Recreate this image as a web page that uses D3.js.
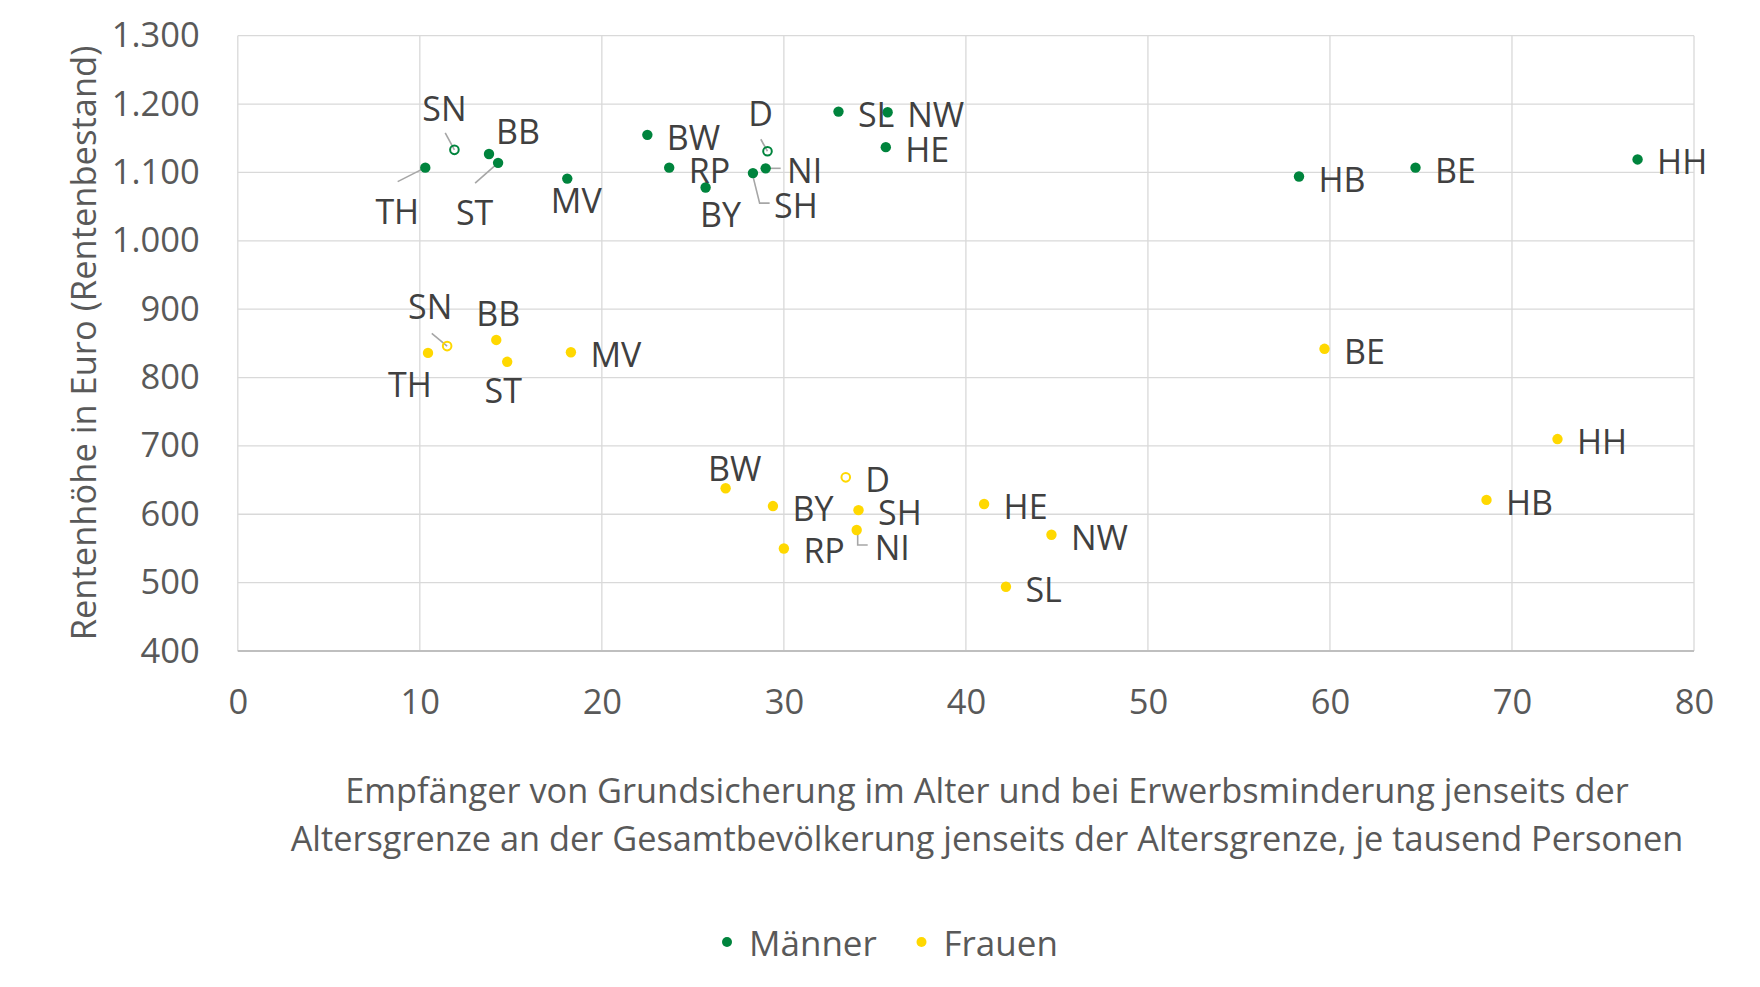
<!DOCTYPE html>
<html>
<head>
<meta charset="utf-8">
<script src="https://cdn.jsdelivr.net/npm/d3@7"></script>
<style>
  html, body { margin: 0; padding: 0; background: #fff; }
  svg { display: block; font-family: "Open Sans", sans-serif; }
</style>
</head>
<body>
<svg id="chart" width="1760" height="987"></svg>
<script>
// ---- data ----
const states = ["TH","SN","BB","ST","MV","BW","RP","BY","D","NI","SH","SL","NW","HE","HB","BE","HH"];
const maennerX = [10.3, 11.9, 13.8, 14.3, 18.1, 22.5, 23.7, 25.7, 29.1, 29.0, 28.3, 33.0, 35.7, 35.6, 58.3, 64.7, 76.9];
const maennerY = [1107, 1133, 1127, 1114, 1091, 1155, 1107, 1078, 1131, 1106, 1099, 1189, 1188, 1137, 1094, 1107, 1119];
const frauenX  = [10.45, 11.5, 14.2, 14.8, 18.3, 26.8, 30.0, 29.4, 33.4, 34.0, 34.1, 42.2, 44.7, 41.0, 68.6, 59.7, 72.5];
const frauenY  = [836, 846, 855, 823, 837, 638, 550, 612, 654, 577, 606, 494, 570, 615, 621, 842, 710];
const seriesNames = ["Männer", "Frauen"];
const xTicks = [0, 10, 20, 30, 40, 50, 60, 70, 80];
const yTicks = [400, 500, 600, 700, 800, 900, 1000, 1100, 1200, 1300];
const xTitle = ["Empfänger von Grundsicherung im Alter und bei Erwerbsminderung jenseits der",
                "Altersgrenze an der Gesamtbevölkerung jenseits der Altersgrenze, je tausend Personen"];
const yTitle = "Rentenhöhe in Euro (Rentenbestand)";

// ---- styling / label placement (not data) ----
const colors = ["#00843D", "#FFD800"];
const hollow = new Set(["D", "SN"]);
// "r" = right of point; otherwise [dx, dy] of label centre
const labelPlace = [
  { TH:[-28,43], SN:[-10,-42], BB:[29,-23], ST:[-23.5,49.5], MV:[9,21], BW:"r", RP:"r", BY:[15,27],
    D:[-7,-38], NI:[39,2], SH:[43,32], SL:"r", NW:"r", HE:"r", HB:"r", BE:"r", HH:"r" },
  { TH:[-18,31], SN:[-17,-40], BB:[2,-27], ST:[-4,28], MV:"r", BW:[9,-20], RP:"r", BY:"r",
    D:"r", NI:[35.6,17], SH:"r", SL:"r", NW:"r", HE:"r", HB:"r", BE:"r", HH:"r" }
];
const leaders = [
  { TH:[[-27.6,14],[0,0]], SN:[[-9.2,-17],[0,0]], ST:[[-23,20.3],[0,0]], D:[[-6.7,-12],[0,0]],
    NI:[[15,0],[4,0]], SH:[[0,3],[6.7,30],[16.7,30]] },
  { SN:[[-15.4,-12.7],[0,0]], NI:[[1,4],[1,15],[11,15]] }
];

const svg = d3.select("#chart");
const x = d3.scaleLinear().domain([0, 80]).range([237.8, 1694]);
const y = d3.scaleLinear().domain([400, 1300]).range([651, 35.7]);
const de = d3.formatLocale({ decimal: ",", thousands: ".", grouping: [3], currency: ["", "€"] });
const fmt = de.format(",d");

// gridlines
const grid = svg.append("g");
grid.selectAll("line.h").data(yTicks).join("line")
  .attr("x1", x(0)).attr("x2", x(80)).attr("y1", d => y(d)).attr("y2", d => y(d))
  .attr("stroke", "#d9d9d9").attr("stroke-width", 1.3);
grid.selectAll("line.v").data(xTicks).join("line")
  .attr("y1", y(400)).attr("y2", y(1300)).attr("x1", d => x(d)).attr("x2", d => x(d))
  .attr("stroke", "#d9d9d9").attr("stroke-width", 1.3);
// bottom axis line
svg.append("line").attr("x1", x(0)).attr("x2", x(80)).attr("y1", y(400)).attr("y2", y(400))
  .attr("stroke", "#bfbfbf").attr("stroke-width", 2);

// axes (labels only)
const xAxis = svg.append("g").attr("transform", `translate(0,${y(400)})`)
  .call(d3.axisBottom(x).tickValues(xTicks).tickSize(0).tickPadding(39).tickFormat(d3.format("d")));
xAxis.select(".domain").remove();
xAxis.selectAll("text").attr("font-size", 34.5).attr("fill", "#595959").attr("font-family", "Open Sans");

const yAxis = svg.append("g").attr("transform", `translate(${x(0)},0)`)
  .call(d3.axisLeft(y).tickValues(yTicks).tickSize(0).tickPadding(38).tickFormat(fmt));
yAxis.select(".domain").remove();
yAxis.selectAll("text").attr("font-size", 34.5).attr("fill", "#595959").attr("font-family", "Open Sans");

// axis titles
svg.append("text").attr("transform", "translate(82,343) rotate(-90)")
  .attr("text-anchor", "middle").attr("dominant-baseline", "central")
  .attr("font-size", 34.5).attr("fill", "#595959").text(yTitle);
svg.selectAll("text.xt").data(xTitle).join("text")
  .attr("x", 987).attr("y", (d, i) => 789 + i * 48)
  .attr("text-anchor", "middle").attr("dominant-baseline", "central")
  .attr("font-size", 34.3).attr("fill", "#595959").text(d => d);

// series
const series = [
  states.map((s, i) => ({ s, x: maennerX[i], y: maennerY[i] })),
  states.map((s, i) => ({ s, x: frauenX[i], y: frauenY[i] }))
];

series.forEach((pts, k) => {
  const g = svg.append("g");
  // leader lines
  pts.forEach(p => {
    const L = leaders[k][p.s];
    if (!L) return;
    const px = x(p.x), py = y(p.y);
    g.append("polyline")
      .attr("points", L.map(o => `${px + o[0]},${py + o[1]}`).join(" "))
      .attr("fill", "none").attr("stroke", "#a6a6a6").attr("stroke-width", 1.6);
  });
  // markers
  g.selectAll("circle").data(pts).join("circle")
    .attr("cx", d => x(d.x)).attr("cy", d => y(d.y)).attr("r", d => hollow.has(d.s) ? 4.3 : 5.2)
    .attr("fill", d => hollow.has(d.s) ? "none" : colors[k])
    .attr("stroke", d => hollow.has(d.s) ? colors[k] : "none")
    .attr("stroke-width", 2);
  // labels
  g.selectAll("text").data(pts).join("text")
    .each(function(d) {
      const pl = labelPlace[k][d.s];
      const t = d3.select(this);
      if (pl === "r") {
        t.attr("x", x(d.x) + 19.5).attr("y", y(d.y) + 2).attr("text-anchor", "start");
      } else {
        t.attr("x", x(d.x) + pl[0]).attr("y", y(d.y) + pl[1]).attr("text-anchor", "middle");
      }
    })
    .attr("dominant-baseline", "central")
    .attr("font-size", 34).attr("fill", "#404040")
    .text(d => d.s);
});

// legend
const legendX = [727, 921.5];
const legend = svg.append("g");
seriesNames.forEach((n, i) => {
  legend.append("circle").attr("cx", legendX[i]).attr("cy", 942).attr("r", 5).attr("fill", colors[i]);
  legend.append("text").attr("x", legendX[i] + 22).attr("y", 942)
    .attr("dominant-baseline", "central").attr("font-size", 35).attr("fill", "#595959").text(n);
});
</script>
</body>
</html>
